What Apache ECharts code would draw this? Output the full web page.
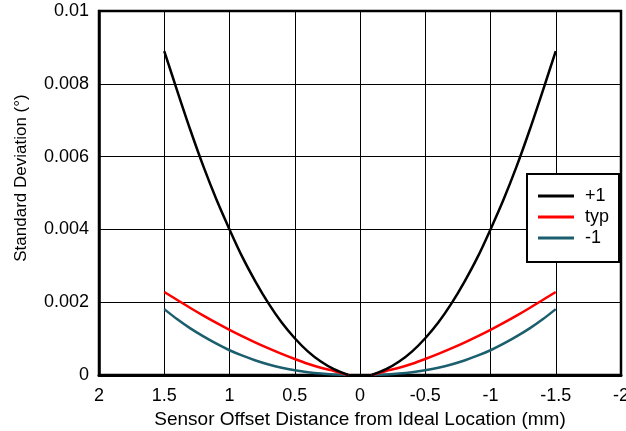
<!DOCTYPE html>
<html>
<head>
<meta charset="utf-8">
<script src="https://cdn.jsdelivr.net/npm/echarts@6/dist/echarts.min.js"></script>
<style>
html,body{margin:0;padding:0;background:#fff;}
#c{width:626px;height:431px;}
</style>
</head>
<body>
<div id="c"></div>
<script>
// Offsets (mm) for the left half; right half mirrors them with negative sign
var offsets = [1.5, 1.4, 1.3, 1.2, 1.1, 1.0, 0.9, 0.8, 0.7, 0.6, 0.5, 0.4, 0.3, 0.2, 0.09];
var plusOne = [0.0089, 0.0078, 0.00673, 0.00573, 0.00482, 0.00400, 0.00323, 0.00256, 0.00196, 0.00144, 0.00101, 0.00065, 0.00037, 0.00016, 0.0];
var typ = [0.00228, 0.00206, 0.00184, 0.00163, 0.00143, 0.00124, 0.00106, 0.00089, 0.00073, 0.00058, 0.00044, 0.00031, 0.00020, 0.00011, 0.0];
var minusOne = [0.00181, 0.00153, 0.00128, 0.00106, 0.00086, 0.00068, 0.00053, 0.00040, 0.00029, 0.00020, 0.00013, 0.000076, 0.000038, 0.000014, 0.0];
var seriesNames = ['+1', 'typ', '-1'];
var seriesColors = ['#000000', '#ff0000', '#1b5e6e'];

function half(vals, sign) {
  return offsets.map(function (x, i) { return [sign * x, vals[i]]; });
}
var valueSets = [plusOne, typ, minusOne];
var series = [];
valueSets.forEach(function (vals, k) {
  [1, -1].forEach(function (s) {
    series.push({
      name: seriesNames[k],
      type: 'line',
      data: half(vals, s),
      showSymbol: false,
      smooth: 0.3,
      lineStyle: { color: seriesColors[k], width: 2.5 },
      itemStyle: { color: seriesColors[k] },
      z: 5 - k
    });
  });
});

var font = 'Liberation Sans, Arial, sans-serif';
var chart = echarts.init(document.getElementById('c'), null, { renderer: 'canvas' });
chart.setOption({
  animation: false,
  backgroundColor: '#fff',
  grid: { left: 99, right: 5, top: 11, bottom: 56, containLabel: false, outerBoundsMode: 'none', show: true, borderColor: '#000', borderWidth: 2.5, backgroundColor: 'transparent' },
  xAxis: {
    type: 'value', inverse: true, min: -2, max: 2, interval: 0.5,
    name: 'Sensor Offset Distance from Ideal Location (mm)',
    nameLocation: 'middle', nameGap: 33,
    nameTextStyle: { color: '#000', fontSize: 19, fontFamily: font },
    axisLine: { show: true, onZero: false, lineStyle: { color: '#000', width: 3 } },
    axisTick: { show: false },
    axisLabel: { color: '#000', fontSize: 18, fontFamily: font, margin: 12 },
    splitLine: { show: true, lineStyle: { color: '#000', width: 1 } }
  },
  yAxis: {
    type: 'value', min: 0, max: 0.01, interval: 0.002,
    position: 'left',
    name: 'Standard Deviation (°)',
    nameLocation: 'middle', nameGap: 69,
    nameTextStyle: { color: '#000', fontSize: 17, fontFamily: font, padding: [0, 0, 0, 30] },
    axisLine: { show: true, onZero: false, lineStyle: { color: '#000', width: 2.5 } },
    axisTick: { show: false },
    axisLabel: { color: '#000', fontSize: 18, fontFamily: font, margin: 10 },
    splitLine: { show: true, lineStyle: { color: '#000', width: 1 } }
  },
  legend: {
    data: seriesNames,
    orient: 'vertical',
    left: 527, top: 174,
    padding: [13, 10, 15, 11],
    itemGap: 3,
    itemWidth: 36, itemHeight: 3,
    icon: 'rect',
    backgroundColor: '#fff',
    borderColor: '#000', borderWidth: 2,
    textStyle: { color: '#000', fontSize: 18, fontFamily: font, padding: [0, 0, 0, 6] }
  },
  series: series
});
</script>
</body>
</html>
